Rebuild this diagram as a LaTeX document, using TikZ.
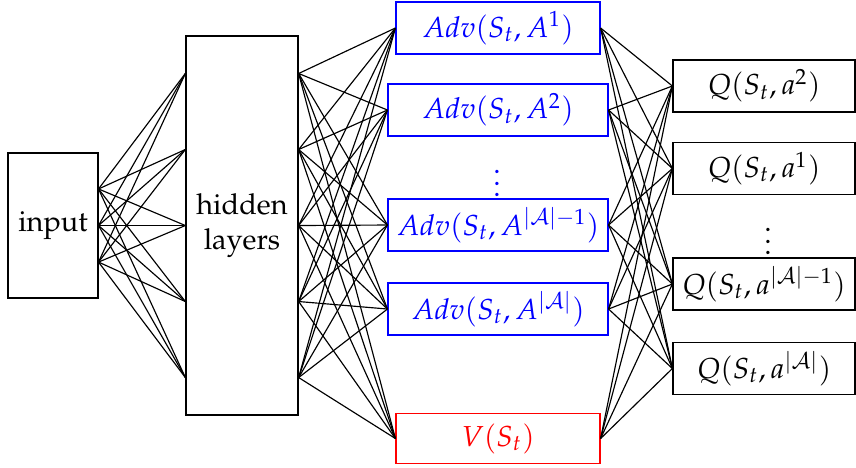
\documentclass[tikz,border=0pt]{standalone}
\usepackage[T1]{fontenc}
\usepackage{mathpazo}
\usetikzlibrary{calc}

\tikzset{
  box/.style={draw, rectangle, inner sep=0pt, minimum height=18pt},
  advbox/.style={box, draw=blue, text=blue},
  valbox/.style={box, draw=red, text=red},
  qbox/.style={box, minimum width=63pt},
  link/.style={draw=black, line width=0.4pt},
}

\begin{document}
\begin{tikzpicture}[x=0.346pt, y=-0.346pt]
\useasboundingbox (0,0) rectangle (856,467);

% input and hidden layers
\node[box, minimum width=31.1pt, minimum height=50.2pt] (in) at (53,225.5) {input};
\node[box, minimum width=38.8pt, minimum height=131.1pt, align=center] (hid) at (242,225.5) {hidden\\layers};

% advantage and value streams
\node[advbox, minimum width=70.6pt] (a1) at (498,28) {$Adv(S_t,A^1)$};
\node[advbox, minimum width=76.1pt] (a2) at (498,110) {$Adv(S_t,A^2)$};
\node[text=blue, inner sep=0pt] (adots) at (497,175) {$\vdots$};
\node[advbox, minimum width=76.1pt] (a3) at (498,225) {$Adv(S_t,A^{|\mathcal{A}|-1})$};
\node[advbox, minimum width=76.1pt] (a4) at (498,309) {$Adv(S_t,A^{|\mathcal{A}|})$};
\node[valbox, minimum width=70.6pt, minimum height=17.3pt] (v) at (498,438.5) {$V(S_t)$};

% Q outputs
\node[qbox] (q1) at (764,86) {$Q(S_t,a^2)$};
\node[qbox] (q2) at (764,168.5) {$Q(S_t,a^1)$};
\node[inner sep=0pt] (qdots) at (768,233) {$\vdots$};
\node[qbox] (q3) at (764,284) {$Q(S_t,a^{|\mathcal{A}|-1})$};
\node[qbox] (q4) at (764,368.5) {$Q(S_t,a^{|\mathcal{A}|})$};

% attachment points on the input and hidden boxes
\foreach \i/\f in {1/0.25, 2/0.5, 3/0.75}
  \coordinate (ir\i) at ($(in.north east)!\f!(in.south east)$);
\foreach \i/\f in {1/0.1, 2/0.3, 3/0.5, 4/0.7, 5/0.9} {
  \coordinate (hl\i) at ($(hid.north west)!\f!(hid.south west)$);
  \coordinate (hr\i) at ($(hid.north east)!\f!(hid.south east)$);
}

% input -> hidden
\foreach \i in {1,2,3}
  \foreach \j in {1,...,5}
    \draw[link] (ir\i) -- (hl\j);

% hidden -> advantage / value
\foreach \j in {1,...,5}
  \foreach \n in {a1,a2,a3,a4,v}
    \draw[link] (hr\j) -- (\n.west);

% advantage / value -> Q
\foreach \n in {a1,a2,a3,a4,v}
  \foreach \q in {q1,q2,q3,q4}
    \draw[link] (\n.east) -- (\q.west);
\end{tikzpicture}
\end{document}
